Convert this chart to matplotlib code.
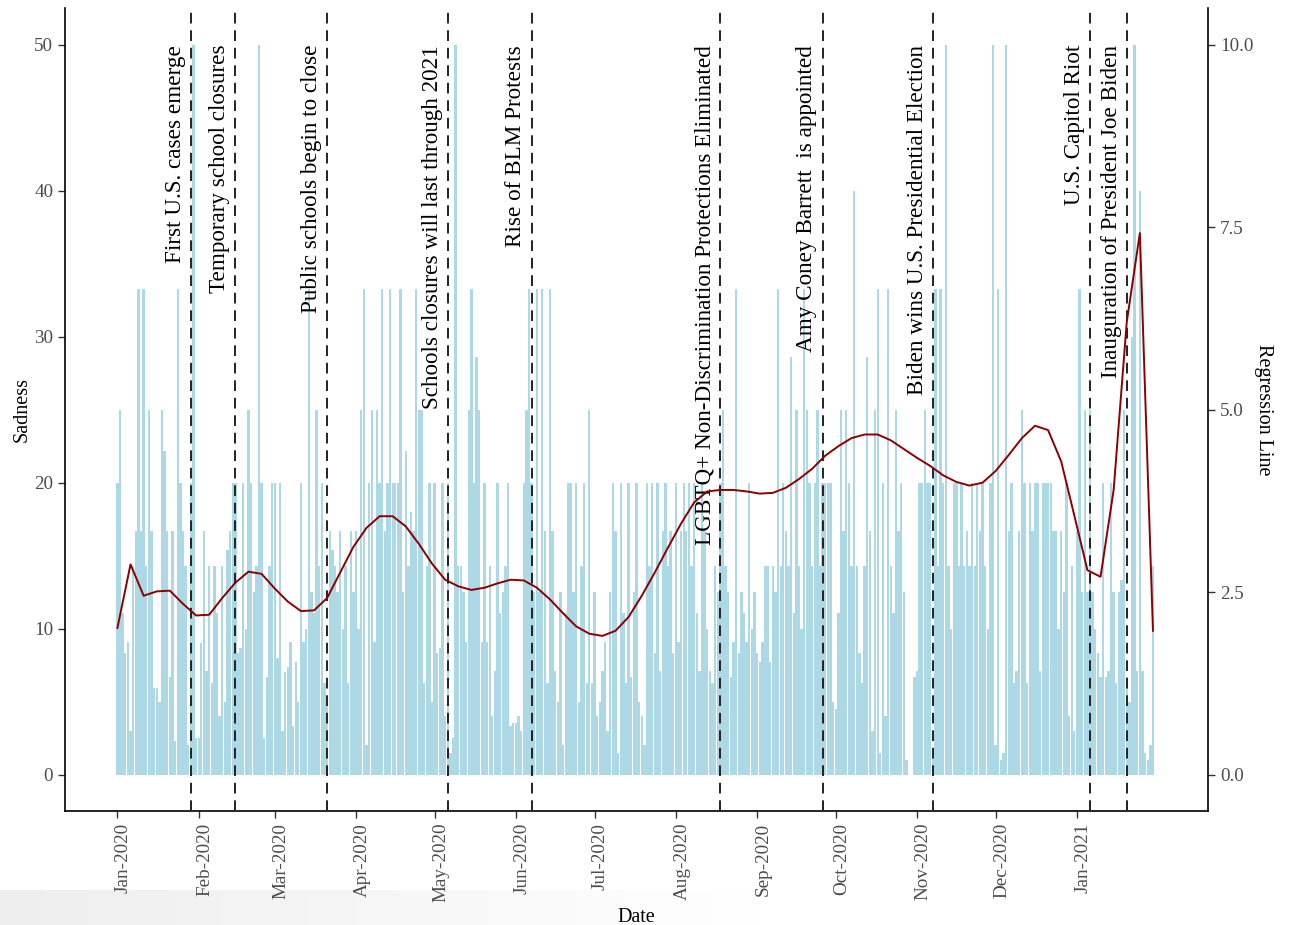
import matplotlib
matplotlib.use("Agg")
import matplotlib.pyplot as plt
import matplotlib.dates as mdates
import matplotlib.transforms as mtransforms
import numpy as np

plt.rcParams['font.family'] = ['Liberation Serif', 'DejaVu Serif']

# daily sadness share (%), one list per month, Jan 2020 .. Jan 2021
jan20 = [20, 25, 11.1, 8.3, 9.1, 3, 14.3, 16.7, 33.3, 16.7, 33.3, 14.3, 25, 16.7, 5.9, 5.9,
         5, 25, 22.2, 16.7, 6.7, 16.7, 2.3, 33.3, 20, 16.7, 14.3, 2, 20, 50, 2.5]
feb20 = [2.5, 9, 16.7, 7.1, 14.3, 6.3, 14.3, 11.1, 4, 14.3, 5, 15.4, 16.7, 20, 20, 8.3,
         8.7, 20, 10, 25, 20, 12.5, 14.3, 50, 20, 2.5, 6.7, 14.3, 20]
mar20 = [20, 8, 20, 3, 7, 7.4, 9.1, 3.3, 7.7, 5, 20, 9.1, 10, 33.3, 12.5, 11.1, 25, 14.3,
         20, 6.3, 5, 16.7, 15.4, 14.3, 12.5, 16.7, 10, 14.3, 6.3, 16.7, 12.5]
apr20 = [16.7, 10, 25, 33.3, 2, 20, 25, 9.1, 25, 20, 33.3, 16.7, 20, 33.3, 20, 20, 20,
         33.3, 12.5, 22.2, 14.3, 18, 16.7, 33.3, 25, 25, 6.3, 14.3, 20, 5]
may20 = [20, 8.3, 8.7, 20, 4, 20, 1.5, 2.5, 50, 14.3, 14.3, 12.5, 9.1, 25, 33.3, 20, 28.6,
         25, 9.1, 20, 9.1, 14.3, 4, 7.1, 20, 11.1, 12.5, 14.3, 20, 3.3, 3.5]
jun20 = [3.5, 4, 3, 20, 25, 33.3, 20, 12.5, 33.3, 12.5, 33.3, 16.7, 6.3, 33.3, 16.7, 7.1,
         5, 12.5, 2, 11.1, 20, 20, 12.5, 20, 5, 14.3, 20, 6.3, 25, 6.3]
jul20 = [12.5, 4, 5, 7.1, 9.1, 3, 12.5, 20, 16.7, 1.5, 20, 11.1, 6.3, 20, 6.7, 12.5, 20,
         5, 4, 2, 20, 14.3, 20, 8.3, 20, 7.1, 16.7, 20, 14.3, 16.7, 8.3]
aug20 = [20, 9.1, 16.7, 20, 16.7, 20, 14.3, 20, 11.1, 7.1, 20, 16.7, 10, 7.1, 6.3, 14.3,
         12.5, 20, 25, 14.3, 12.5, 6.7, 9.1, 33.3, 8.3, 12.5, 11.1, 9.1, 20, 10, 12.5]
sep20 = [8.3, 7.7, 9.1, 14.3, 14.3, 7.7, 14.3, 12.5, 33.3, 14.3, 20, 16.7, 14.3, 28.6,
         11.1, 25, 14.3, 10, 33.3, 25, 20, 14.3, 20, 25, 14.3, 20, 20, 20, 20, 5]
oct20 = [4.5, 11.1, 25, 16.7, 25, 20, 14.3, 40, 14.3, 8.3, 6.3, 14.3, 28.6, 16.7, 3, 25,
         33.3, 1.5, 20, 4, 33.3, 14.3, 11.1, 25, 16.7, 20, 12.5, 1, np.nan, np.nan, 6.7]
nov20 = [7.1, 20, 20, 25, 20, 20, 1.5, 33.3, 14.3, 33.3, 20, 50, 14.3, 10, 20, 20, 14.3,
         20, 14.3, 16.7, 14.3, 20, 14.3, 20, 16.7, 20, 14.3, 10, 20, 50]
dec20 = [2, 33.3, 1, 1.5, 50, 16.7, 20, 6.3, 7.1, 16.7, 25, 20, 6.3, 20, 16.7, 20, 20, 7.1,
         20, 20, 20, 20, 16.7, 16.7, 10, 16.7, 12.5, 20, 4, 14.3, 3]
jan21 = [16.7, 33.3, 12.5, 25, 12.5, 25, 12.5, 10, 8.3, 6.7, 20, 6.7, 7.1, 20, 12.5, 6.3,
         12.5, 13.3, 25, 6.7, 5, 30, 50, 7.1, 40, 7.1, 1.5, 1, 2, 14.3]

sadness = np.array(jan20 + feb20 + mar20 + apr20 + may20 + jun20 + jul20 + aug20
                   + sep20 + oct20 + nov20 + dec20 + jan21)
days = np.arange('2020-01-01', '2021-01-31', dtype='datetime64[D]')

# fitted regression line, one point every 5 days
reg_days = np.arange('2020-01-01', '2021-01-31', 5, dtype='datetime64[D]')
reg_vals = [2.01, 2.88, 2.45, 2.51, 2.52, 2.34, 2.18, 2.19, 2.42, 2.63,
            2.78, 2.75, 2.55, 2.37, 2.24, 2.25, 2.42, 2.77, 3.12, 3.38,
            3.54, 3.54, 3.40, 3.16, 2.89, 2.67, 2.58, 2.53, 2.56, 2.62,
            2.67, 2.66, 2.56, 2.40, 2.21, 2.03, 1.93, 1.90, 1.97, 2.16,
            2.45, 2.77, 3.11, 3.44, 3.73, 3.88, 3.90, 3.90, 3.88, 3.85,
            3.86, 3.93, 4.05, 4.19, 4.37, 4.50, 4.61, 4.66, 4.66, 4.58,
            4.46, 4.34, 4.23, 4.10, 4.01, 3.96, 4.00, 4.16, 4.38, 4.61,
            4.78, 4.72, 4.29, 3.55, 2.80, 2.71, 3.90, 6.20, 7.42, 1.97]

# events marked with dashed lines
event_dates = np.array(['2020-01-29', '2020-02-15', '2020-03-21', '2020-05-06',
                        '2020-06-07', '2020-08-18', '2020-09-26', '2020-11-07',
                        '2021-01-06', '2021-01-20'], dtype='datetime64[D]')
event_labels = ['First U.S. cases emerge', 'Temporary school closures',
                'Public schools begin to close', 'Schools closures will last through 2021',
                'Rise of BLM Protests', 'LGBTQ+ Non-Discrimination Protections Eliminated',
                'Amy Coney Barrett  is appointed', 'Biden wins U.S. Presidential Election',
                'U.S. Capitol Riot', 'Inauguration of President Joe Biden']

month_ticks = np.arange('2020-01', '2021-02', dtype='datetime64[M]').astype('datetime64[D]')

fig = plt.figure(figsize=(12.92, 9.25), dpi=100)
ax1 = fig.add_axes([0.0503, 0.1232, 0.8847, 0.8678])

ax1.bar(days, sadness, width=0.9, color='#ADD8E6', linewidth=0, zorder=1)

for d, lab in zip(event_dates, event_labels):
    ax1.axvline(d, color='#222222', lw=1.4, ls=(0, (5.5, 3.5)), zorder=3)
    ax1.text(d - np.timedelta64(2, 'D'), 50, lab, rotation=90,
             ha='right', va='top', fontsize=16.7, color='black', zorder=4)

ax1.set_ylim(-2.5, 52.5)
ax1.set_yticks([0, 10, 20, 30, 40, 50])
x0 = np.datetime64('2020-01-01') - np.timedelta64(20, 'D')
x1 = np.datetime64('2020-01-01') + np.timedelta64(416, 'D')
ax1.set_xlim(x0, x1)
ax1.set_xticks(month_ticks)
ax1.xaxis.set_major_formatter(mdates.DateFormatter('%b-%Y'))
ax1.tick_params(axis='x', labelrotation=90)
ax1.set_xlabel('Date', fontsize=14.5, labelpad=4)
ax1.set_ylabel('Sadness', fontsize=14.5, labelpad=2)

ax2 = ax1.twinx()
ax2.plot(reg_days, reg_vals, color='#8B0000', lw=1.4, zorder=5)
ax2.set_ylim(-0.5, 10.5)
ax2.set_yticks([0, 2.5, 5, 7.5, 10])
ax2.set_yticklabels(['0.0', '2.5', '5.0', '7.5', '10.0'])
ax2.set_ylabel('Regression Line', fontsize=14.5, rotation=270, labelpad=14)

for ax in (ax1, ax2):
    ax.spines['top'].set_visible(False)
    ax.tick_params(axis='both', labelsize=13.8, labelcolor='#4D4D4D', color='#333333',
                   length=5, width=1)
    for s in ax.spines.values():
        s.set_linewidth(1.2)
ax2.spines['left'].set_visible(False)
ax2.spines['bottom'].set_visible(False)
ax1.spines['right'].set_visible(False)

# month labels sit a little right of their tick marks
shift = mtransforms.ScaledTranslation(0.06, 0, fig.dpi_scale_trans)
for tick in ax1.xaxis.get_major_ticks():
    tick.label1.set_transform(tick.label1.get_transform() + shift)

# faint grey band along the bottom edge
band = fig.add_axes([0, 0, 0.62, 0.038], zorder=-5)
grad = np.linspace(0.93, 1.0, 256).reshape(1, -1)
band.imshow(grad, cmap='gray', vmin=0, vmax=1, aspect='auto', extent=[0, 1, 0, 1])
band.axis('off')

fig.savefig('out.png', dpi=100)
